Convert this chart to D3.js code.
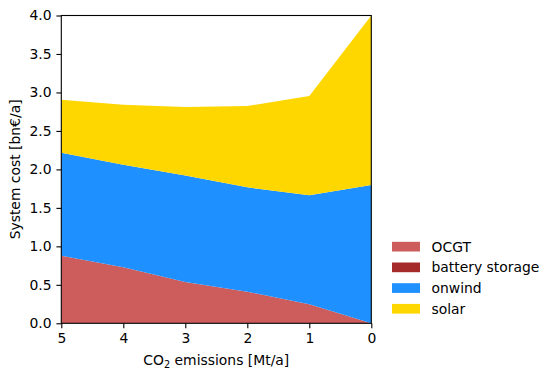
<!DOCTYPE html>
<html><head><meta charset="utf-8">
<script src="https://cdn.jsdelivr.net/npm/d3@7"></script>
<style>body{margin:0;background:#fff}svg{display:block;font-family:"DejaVu Sans",sans-serif}</style>
</head><body><svg id="c" width="555" height="379"></svg>
<script>
const emissions = [5, 4, 3, 2, 1, 0];
const ocgt = [0.879, 0.728, 0.537, 0.411, 0.247, 0.0];
const battery = [0, 0, 0, 0, 0, 0];
const onwind = [1.338, 1.332, 1.383, 1.356, 1.416, 1.797];
const solar = [0.689, 0.78, 0.89, 1.057, 1.291, 2.203];
const seriesNames = ["OCGT", "battery storage", "onwind", "solar"];
const seriesColors = ["#cd5c5c", "#a52a2a", "#1e90ff", "#ffd700"];
const xTicks = [5, 4, 3, 2, 1, 0];
const yTicks = [0, 0.5, 1, 1.5, 2, 2.5, 3, 3.5, 4];

const rows = emissions.map((e, i) => ({e, "OCGT": ocgt[i], "battery storage": battery[i], "onwind": onwind[i], "solar": solar[i]}));
const svg = d3.select("#c");
const L = 61.3, R = 371.3, T = 15.5, B = 323.3;
const x = d3.scaleLinear().domain([5, 0]).range([L, R]);
const y = d3.scaleLinear().domain([0, 4]).range([B, T]);
const stack = d3.stack().keys(seriesNames)(rows);
const area = d3.area().x(d => x(d.data.e)).y0(d => y(d[0])).y1(d => y(d[1]));
svg.append("g").selectAll("path").data(stack).join("path")
  .attr("d", area).attr("fill", (d, i) => seriesColors[i]);

const fs = "13.9px";
const xa = svg.append("g").attr("transform", `translate(0,${B})`)
  .call(d3.axisBottom(x).tickValues(xTicks).tickFormat(d3.format("d")).tickSize(4.9).tickPadding(4.9));
const ya = svg.append("g").attr("transform", `translate(${L},0)`)
  .call(d3.axisLeft(y).tickValues(yTicks).tickFormat(d3.format(".1f")).tickSize(4.9).tickPadding(4.9));
[xa, ya].forEach(a => {
  a.select(".domain").remove();
  a.selectAll("line").attr("stroke", "#000").attr("stroke-width", 1.1);
  a.selectAll("text").attr("font-size", fs).attr("fill", "#000").attr("font-family", "DejaVu Sans");
});
svg.append("rect").attr("x", L).attr("y", T).attr("width", R - L).attr("height", B - T)
  .attr("fill", "none").attr("stroke", "#000").attr("stroke-width", 1.1);

const xl = svg.append("text").attr("x", (L + R) / 2).attr("y", 365).attr("text-anchor", "middle").attr("font-size", fs);
xl.append("tspan").text("CO");
xl.append("tspan").text("2").attr("font-size", "9.7px").attr("dy", 2.5);
xl.append("tspan").text(" emissions [Mt/a]").attr("dy", -2.5);
svg.append("text").attr("transform", `translate(20,${(T + B) / 2}) rotate(-90)`)
  .attr("text-anchor", "middle").attr("font-size", fs).text("System cost [bn€/a]");

const lg = svg.append("g");
seriesNames.forEach((n, i) => {
  const cy = 246.7 + i * 20.7;
  lg.append("rect").attr("x", 392).attr("y", cy - 4.9).attr("width", 28).attr("height", 9.7).attr("fill", seriesColors[i]);
  lg.append("text").attr("x", 431.5).attr("y", cy + 4.9).attr("font-size", fs).text(n);
});
</script></body></html>
